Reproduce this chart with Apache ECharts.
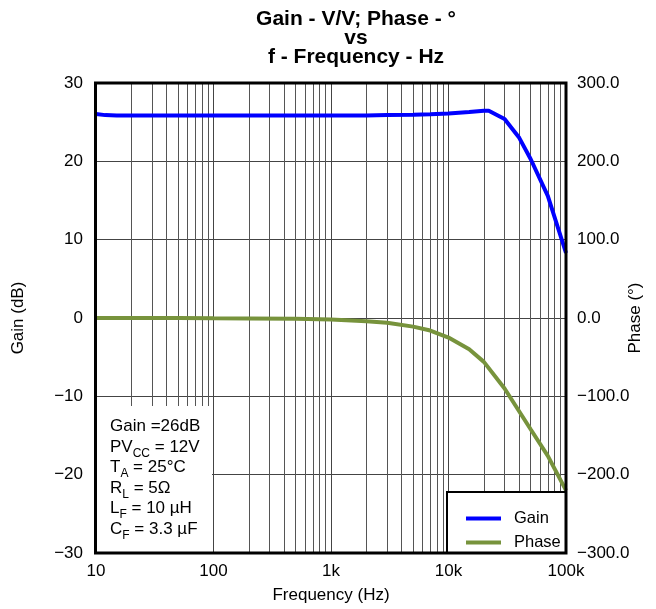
<!DOCTYPE html>
<html><head><meta charset="utf-8">
<script src="https://cdn.jsdelivr.net/npm/echarts@6/dist/echarts.min.js"></script>
<style>html,body{margin:0;padding:0;background:#fff}#c{width:656px;height:609px}</style>
</head><body><div id="c"></div>
<script>
var freq = [10, 12, 15, 20, 50, 100, 200, 500, 1000, 2000, 3000, 5000, 7000, 10000, 15000, 20000, 22000, 30000, 40000, 50000, 70000, 100000];
var gain = [26.05, 25.9, 25.85, 25.85, 25.85, 25.85, 25.85, 25.85, 25.85, 25.85, 25.9, 25.95, 26.0, 26.1, 26.3, 26.45, 26.45, 25.4, 23.0, 20.3, 15.6, 8.3];
var phaseFreq = [10, 20, 50, 100, 200, 500, 1000, 2000, 3000, 5000, 7000, 10000, 15000, 20000, 30000, 50000, 70000, 100000];
var phase = [0, 0, 0, -0.3, -0.5, -1, -2, -4, -6, -11, -16, -25, -40, -56, -90, -142, -176, -220];
var xTicks = [10, 100, 1000, 10000, 100000];
var xTickLabels = ['10', '100', '1k', '10k', '100k'];
var notes = [
  '{t|Gain =26dB}',
  '{t|PV}{s|CC}{t| = 12V}',
  '{t|T}{s|A}{t| = 25°C}',
  '{t|R}{s|L}{t| = 5Ω}',
  '{t|L}{s|F}{t| = 10 µH}',
  '{t|C}{s|F}{t| = 3.3 µF}'
];

var minor = [];
for (var d = 10; d < 100000; d *= 10) for (var k = 2; k <= 9; k++) minor.push(d * k);

var FONT = 'Liberation Sans, Arial, sans-serif';
var FS = 17;
var G = {l: 96, t: 83, r: 566, b: 553};
function minus(s){ return String(s).replace('-', '\u2212'); }
function pairs(xs, ys){ return xs.map(function(x, i){ return [x, ys[i]]; }); }

var chart = echarts.init(document.getElementById('c'), null, {renderer: 'canvas'});
chart.setOption({
  animation: false,
  backgroundColor: '#fff',
  title: {
    text: 'Gain - V/V; Phase - °\nvs\nf - Frequency - Hz',
    left: 351, top: 5, textAlign: 'center',
    textStyle: {fontFamily: FONT, fontSize: 21, fontWeight: 'bold', color: '#000', lineHeight: 19}
  },
  grid: {left: G.l, top: G.t, width: G.r - G.l, height: G.b - G.t, show: false, containLabel: false, outerBoundsMode: 'none'},
  xAxis: {
    type: 'log', logBase: 10, min: 10, max: 100000,
    name: 'Frequency (Hz)', nameLocation: 'middle', nameGap: 34, nameMoveOverlap: false,
    nameTextStyle: {fontFamily: FONT, fontSize: FS, color: '#000'},
    axisLine: {show: false}, axisTick: {show: false},
    axisLabel: {fontFamily: FONT, fontSize: FS, color: '#000', margin: 10,
      formatter: function(v){ var i = xTicks.indexOf(Math.round(v)); return i >= 0 ? xTickLabels[i] : ''; }},
    splitLine: {show: true, lineStyle: {color: '#444', width: 1}}
  },
  yAxis: [{
    type: 'value', min: -30, max: 30, interval: 10, position: 'left',
    name: 'Gain (dB)', nameLocation: 'middle', nameGap: 69, nameRotate: 90, nameMoveOverlap: false,
    nameTextStyle: {fontFamily: FONT, fontSize: FS, color: '#000'},
    axisLine: {show: false}, axisTick: {show: false},
    axisLabel: {fontFamily: FONT, fontSize: FS, color: '#000', margin: 13, formatter: function(v){ return minus(v); }},
    splitLine: {show: true, lineStyle: {color: '#444', width: 1.2}}
  }, {
    type: 'value', min: -300, max: 300, interval: 100, position: 'right',
    name: 'Phase (°)', nameLocation: 'middle', nameGap: 61, nameRotate: 90, nameMoveOverlap: false,
    nameTextStyle: {fontFamily: FONT, fontSize: FS, color: '#000'},
    axisLine: {show: false}, axisTick: {show: false},
    axisLabel: {fontFamily: FONT, fontSize: FS, color: '#000', margin: 11, formatter: function(v){ return minus(v.toFixed(1)); }},
    splitLine: {show: false}
  }],
  legend: {
    orient: 'vertical', left: 461, top: 505, itemWidth: 35, itemHeight: 14, itemGap: 7,
    z: 20,
    textStyle: {fontFamily: FONT, fontSize: 16.5, color: '#000', padding: [0, 0, 0, 8]},
    data: [{name: 'Gain', icon: 'path://M0,5 L35,5 L35,9 L0,9 Z'}, {name: 'Phase', icon: 'path://M0,5 L35,5 L35,9 L0,9 Z'}]
  },
  series: [{
    type: 'line', name: 'minor', data: [], z: 1, silent: true,
    markLine: {silent: true, symbol: ['none', 'none'], label: {show: false}, animation: false,
      lineStyle: {color: '#555', type: 'solid', width: 1},
      data: minor.map(function(v){ return {xAxis: v}; })}
  }, {
    type: 'line', name: 'Gain', data: pairs(freq, gain), yAxisIndex: 0, z: 5,
    symbol: 'none', smooth: false, lineStyle: {color: '#0000ff', width: 4}, itemStyle: {color: '#0000ff'}
  }, {
    type: 'line', name: 'Phase', data: pairs(phaseFreq, phase), yAxisIndex: 1, z: 5,
    symbol: 'none', smooth: false, lineStyle: {color: '#77933c', width: 4}, itemStyle: {color: '#77933c'}
  }],
  graphic: [
    {type: 'rect', z: 15, shape: {x: G.l, y: 406, width: 212 - G.l, height: G.b - 406}, style: {fill: '#fff'}},
    {type: 'text', z: 16, left: 110, top: 418, style: {
      text: notes.join('\n'),
      rich: {
        t: {fontFamily: FONT, fontSize: FS, color: '#000', lineHeight: 20.5, verticalAlign: 'bottom'},
        s: {fontFamily: FONT, fontSize: 12, color: '#000', lineHeight: 20.5, verticalAlign: 'bottom', padding: [0, 0, -4, 0]}
      }
    }},
    {type: 'rect', z: 16, shape: {x: 447, y: 492, width: G.r - 447, height: G.b - 492}, style: {fill: '#fff', stroke: '#000', lineWidth: 2}},
    {type: 'rect', z: 30, shape: {x: G.l - 0.5, y: G.t, width: G.r - G.l + 0.5, height: G.b - G.t}, style: {fill: 'none', stroke: '#000', lineWidth: 3}}
  ]
});
</script></body></html>
